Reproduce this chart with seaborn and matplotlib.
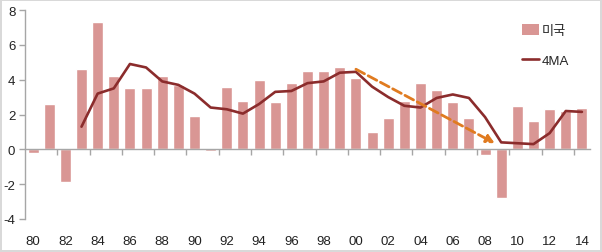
import numpy as np
import pandas as pd
import matplotlib
matplotlib.use("Agg")
import matplotlib.pyplot as plt
import seaborn as sns
from matplotlib.patches import Patch
from matplotlib.lines import Line2D

years = [str(y)[-2:] for y in range(1980, 2015)]
us_growth = [-0.2, 2.6, -1.9, 4.6, 7.3, 4.2, 3.5, 3.5, 4.2, 3.7,
             1.9, -0.1, 3.6, 2.8, 4.0, 2.7, 3.8, 4.5, 4.5, 4.7,
             4.1, 1.0, 1.8, 2.8, 3.8, 3.4, 2.7, 1.8, -0.3, -2.8,
             2.5, 1.6, 2.3, 2.2, 2.4]
ma_years = list(range(1983, 2015))
ma4 = [1.3, 3.2, 3.5, 4.9, 4.7, 3.9, 3.7, 3.2, 2.4, 2.3,
       2.05, 2.6, 3.3, 3.35, 3.8, 3.9, 4.4, 4.45, 3.6, 3.0,
       2.5, 2.4, 2.95, 3.15, 2.95, 1.85, 0.4, 0.35, 0.3, 0.93,
       2.2, 2.15]
tick_labels = years[::2]
arrow_start = (2000, 4.6)
arrow_end = (2008.6, 0.35)

sns.set_theme(style="white")
plt.rcParams['font.family'] = ['Liberation Sans', 'Noto Sans CJK KR']

bar_color = "#D99694"
line_color = "#8B2C2C"
axis_color = "#A6A6A6"

fig = plt.figure(figsize=(6.02, 2.53), dpi=100)
ax = fig.add_axes([25/602, 1-220/253, 565/602, 209/253])

df = pd.DataFrame({"year": years, "val": us_growth})
sns.barplot(data=df, x="year", y="val", color=bar_color, saturation=1,
            width=0.68, ax=ax, order=years)

ma_pos = [y - 1980 for y in ma_years]
sns.lineplot(x=ma_pos, y=ma4, color=line_color, linewidth=1.9, ax=ax)

ax.annotate("", xy=(arrow_end[0]-1980, arrow_end[1]), xytext=(arrow_start[0]-1980, arrow_start[1]),
            arrowprops=dict(arrowstyle="-|>", color="#E07B20", lw=2.0, linestyle=(0, (3.5, 1.5)),
                            mutation_scale=12, shrinkA=0, shrinkB=0))

ax.set_xlim(-0.5, 34.5)
ax.set_ylim(-4, 8)
ax.set_yticks([-4, -2, 0, 2, 4, 6, 8])
ax.set_yticklabels(["-4", "-2", "0", "2", "4", "6", "8"])
ax.set_xticks(range(0, 35, 2))
ax.set_xticklabels(tick_labels)
ax.set_xticks(np.arange(1.5, 34, 2), minor=True)
ax.set_xlabel("")
ax.set_ylabel("")

for s in ["top", "right"]:
    ax.spines[s].set_visible(False)
ax.spines["bottom"].set_position(("data", 0))
ax.spines["bottom"].set_color(axis_color)
ax.spines["left"].set_color(axis_color)
ax.spines["bottom"].set_linewidth(1.0)
ax.spines["left"].set_linewidth(1.0)

ax.tick_params(axis="y", which="major", length=4, width=1, color=axis_color,
               direction="out", labelsize=9.5, labelcolor="#222222", pad=3, left=True)
ax.tick_params(axis="x", which="major", length=0, pad=62, labelsize=9.5, labelcolor="#222222", bottom=True)
ax.tick_params(axis="x", which="minor", length=4, width=1, color=axis_color, direction="out", bottom=True)

handles = [Patch(facecolor=bar_color, edgecolor="none"),
           Line2D([0], [0], color=line_color, lw=1.9)]
leg = fig.legend(handles, ["미국", "4MA"], loc="upper left", bbox_to_anchor=(517/602, 1-20/253),
                 frameon=False, fontsize=9.5, handlelength=1.3, handleheight=0.9,
                 handletextpad=0.15, labelspacing=1.3, borderaxespad=0)

fig.patch.set_edgecolor("#D9D9D9")
fig.patch.set_linewidth(1.5)
fig.savefig("out.png", dpi=100, edgecolor=fig.get_edgecolor(), facecolor="white")
